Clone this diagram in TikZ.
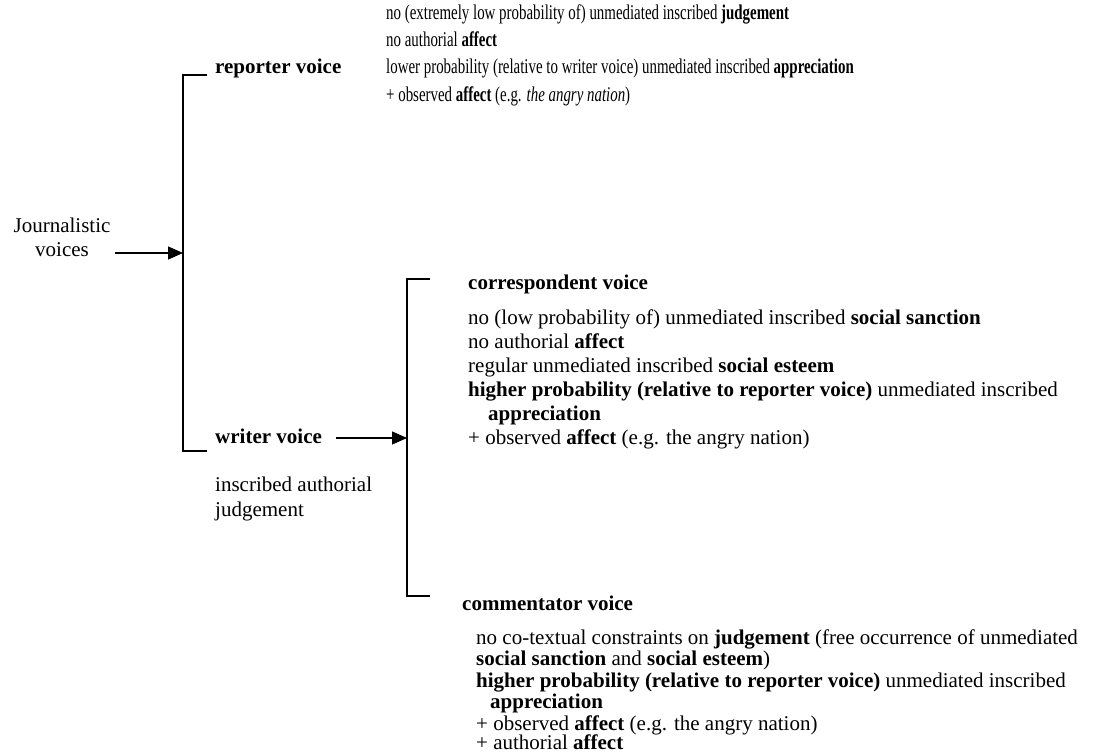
\documentclass[tikz,border=0pt]{standalone}
\usepackage{fontspec}
\setmainfont{Liberation Serif}
\newfontfamily\narrowface{Liberation Serif}[FakeStretch=0.71]
\usetikzlibrary{arrows.meta}
\begin{document}
\begin{tikzpicture}[x=1pt,y=-1pt,
  txt/.style={anchor=base west, inner sep=0pt, font=\fontsize{21}{24}\selectfont},
  head/.style={txt, font=\fontsize{21}{24}\selectfont\bfseries},
  narrow/.style={anchor=base west, inner sep=0pt, font=\narrowface\fontsize{21}{27}\selectfont},
  bracket/.style={line width=1.3pt},
  arr/.style={line width=1.1pt, -{Triangle[length=15pt,width=13pt]}}]
\useasboundingbox (0,0) rectangle (1098,752);

% root label
\node[anchor=base, inner sep=0pt, font=\fontsize{21}{24}\selectfont] (jv1) at (62,232) {Journalistic};
\node[anchor=base, inner sep=0pt, font=\fontsize{21}{24}\selectfont] (jv2) at (62,256) {voices};

% first bracket
\coordinate (b1top) at (183,75);
\coordinate (b1bot) at (183,451);
\coordinate (b1in) at (183,253);
\coordinate (b1tip) at (207,75);
\coordinate (b1bip) at (207,451);
\draw[bracket] (b1tip) -- (b1top) -- (b1bot) -- (b1bip);
\coordinate (jvout) at (115,253);
\draw[arr] (jvout) -- (b1in);

% reporter voice
\node[head] (rep) at (215,74) {reporter voice};
\node[narrow] (r1) at (386,20) {no (extremely low probability of) unmediated inscribed \textbf{judgement}};
\node[narrow] (r2) at (386,47) {no authorial \textbf{affect}};
\node[narrow] (r3) at (386,74) {lower probability (relative to writer voice) unmediated inscribed \textbf{appreciation}};
\node[narrow] (r4) at (386,102) {+ observed \textbf{affect} (e.g. \textit{the angry nation})};

% writer voice
\node[head] (wri) at (215,443) {writer voice};
\node[txt] (w1) at (215,491) {inscribed authorial};
\node[txt] (w2) at (215,516) {judgement};

% second bracket
\coordinate (b2top) at (407,279);
\coordinate (b2bot) at (407,596);
\coordinate (b2in) at (407,438);
\coordinate (b2tip) at (430,279);
\coordinate (b2bip) at (430,596);
\draw[bracket] (b2tip) -- (b2top) -- (b2bot) -- (b2bip);
\draw[arr] ([xshift=14pt]wri.east |- b2in) -- (b2in);

% correspondent voice
\node[head] (cor) at (468,289) {correspondent voice};
\node[txt] (c1) at (468,324) {no (low probability of) unmediated inscribed \textbf{social sanction}};
\node[txt] (c2) at (468,348) {no authorial \textbf{affect}};
\node[txt] (c3) at (468,372) {regular unmediated inscribed \textbf{social esteem}};
\node[txt] (c4) at (468,396) {\textbf{higher probability (relative to reporter voice)} unmediated inscribed};
\node[txt] (c5) at (488,420) {\textbf{appreciation}};
\node[txt] (c6) at (468,444) {+ observed \textbf{affect} (e.g. the angry nation)};

% commentator voice
\node[head] (com) at (462,610) {commentator voice};
\node[txt] (m1) at (476,644) {no co-textual constraints on \textbf{judgement} (free occurrence of unmediated};
\node[txt] (m2) at (476,665.5) {\textbf{social sanction} and \textbf{social esteem})};
\node[txt] (m3) at (476,687) {\textbf{higher probability (relative to reporter voice)} unmediated inscribed};
\node[txt] (m4) at (490,708.5) {\textbf{appreciation}};
\node[txt] (m5) at (476,730) {+ observed \textbf{affect} (e.g. the angry nation)};
\node[txt] (m6) at (476,749.5) {+ authorial \textbf{affect}};
\end{tikzpicture}
\end{document}
